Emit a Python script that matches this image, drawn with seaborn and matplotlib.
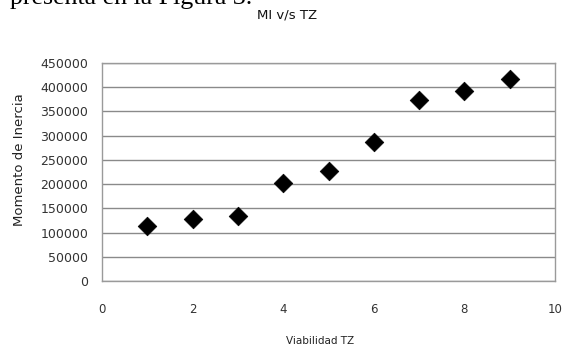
import matplotlib
matplotlib.use("Agg")
import matplotlib.pyplot as plt
import seaborn as sns
import pandas as pd

viabilidad = [1, 2, 3, 4, 5, 6, 7, 8, 9]
momento = [113000, 127000, 135000, 202000, 227000, 287000, 374000, 393000, 418000]
x_ticks = [0, 2, 4, 6, 8, 10]
y_ticks = [0, 50000, 100000, 150000, 200000, 250000, 300000, 350000, 400000, 450000]

sns.set_theme(style="white")
plt.rcParams['font.family'] = ['DejaVu Sans']

df = pd.DataFrame({"Viabilidad TZ": viabilidad, "Momento de Inercia": momento})

fig = plt.figure(figsize=(5.65, 3.47), dpi=100)
ax = fig.add_axes([102/565, 1 - 281/347, (555-102)/565, (281-63)/347])

sns.scatterplot(data=df, x="Viabilidad TZ", y="Momento de Inercia", ax=ax,
                marker="D", s=90, color="black", edgecolor="black", linewidth=0.5, zorder=3)

ax.set_xlim(0, 10)
ax.set_ylim(0, 450000)
ax.set_xticks(x_ticks)
ax.set_yticks(y_ticks)
ax.set_xticklabels([str(t) for t in x_ticks])
ax.set_yticklabels([str(t) for t in y_ticks])
ax.yaxis.grid(True, color="#8a8a8a", linewidth=1.0)
ax.xaxis.grid(False)
for sp in ax.spines.values():
    sp.set_color("#9a9a9a")
    sp.set_linewidth(1.0)
ax.tick_params(axis="both", colors="#333333", length=0)
ax.tick_params(axis="x", labelsize=8.5, pad=16)
ax.tick_params(axis="y", labelsize=9, pad=10)
ax.set_xlabel("")
ax.set_ylabel("")

fig.text(320/565, 1 - 341/347, "Viabilidad TZ", ha="center", va="center", fontsize=7.5, color="#222222")
fig.text(20/565, 1 - 160/347, "Momento de Inercia", ha="center", va="center", rotation=90,
         fontsize=9.5, color="#222222")
fig.text(287/565, 1 - 15/347, "MI v/s TZ", ha="center", va="center", fontsize=9.5, color="#111111")
fig.text(10/565, 1 - 4/347, "presenta en la Figura 3.", ha="left", va="baseline",
         fontsize=18.6, family="Liberation Serif", color="black")

fig.savefig("out.png", dpi=100)
